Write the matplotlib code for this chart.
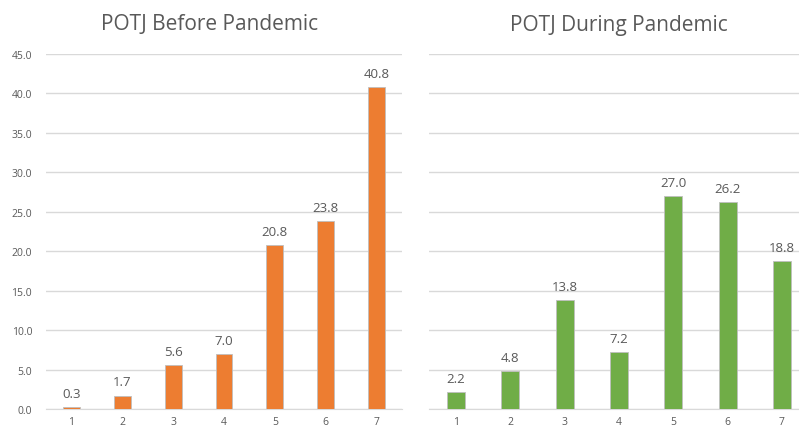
import matplotlib
matplotlib.use("Agg")
import matplotlib.pyplot as plt
import numpy as np

categories = ["1", "2", "3", "4", "5", "6", "7"]
before = [0.3, 1.7, 5.6, 7.0, 20.8, 23.8, 40.8]
during = [2.2, 4.8, 13.8, 7.2, 27.0, 26.2, 18.8]
yticks = [0, 5, 10, 15, 20, 25, 30, 35, 40, 45]

W, H = 799, 431
fig = plt.figure(figsize=(W / 100, H / 100), dpi=100)
plt.rcParams['font.family'] = ['Open Sans', 'DejaVu Sans']

txt = "#595959"
grid = "#D9D9D9"

def make(ax, vals, color, title, title_x, show_y):
    x = np.arange(len(categories))
    ax.bar(x, vals, width=0.33, color=color, edgecolor="#BFBFBF", linewidth=0.6, zorder=3)
    for xi, v in zip(x, vals):
        ax.text(xi, v + 0.9, f"{v:.1f}", ha="center", va="bottom", fontsize=9.5, color=txt)
    ax.set_xlim(-0.5, len(categories) - 0.5)
    ax.set_ylim(0, 45)
    ax.set_yticks(yticks)
    ax.yaxis.grid(True, color=grid, linewidth=1, zorder=0)
    ax.set_xticks(x)
    ax.set_xticklabels(categories, fontsize=7.5, color=txt)
    if show_y:
        ax.set_yticklabels([f"{t:.1f}" for t in yticks], fontsize=7.5, color=txt)
    else:
        ax.set_yticklabels([])
    ax.tick_params(axis="x", length=0, pad=5)
    ax.tick_params(axis="y", length=0, pad=10)
    for s in ["top", "right", "left"]:
        ax.spines[s].set_visible(False)
    ax.spines["bottom"].set_color(grid)
    fig.text(title_x / W, 1 - 25 / H, title, ha="center", va="center", fontsize=15, color=txt)

bottom = 1 - 410 / H
height = (410 - 55) / H
ax1 = fig.add_axes([46 / W, bottom, (402 - 46) / W, height])
ax2 = fig.add_axes([429 / W, bottom, (809 - 429) / W, height])
make(ax1, before, "#ED7D31", "POTJ Before Pandemic", 210, True)
make(ax2, during, "#70AD47", "POTJ During Pandemic", 619, False)

fig.savefig("out.png", dpi=100)
